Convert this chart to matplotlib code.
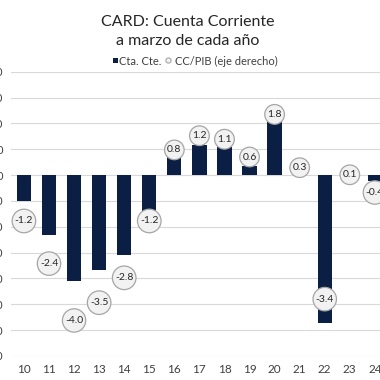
import numpy as np
import matplotlib
matplotlib.use("Agg")
from matplotlib import pyplot as plt
from matplotlib.patches import Rectangle, Circle

plt.rcParams['font.family'] = ['Lato', 'DejaVu Sans']

# data
years = ["10", "11", "12", "13", "14", "15", "16", "17", "18", "19", "20", "21", "22", "23", "24"]
cta_cte = [-100, -230, -410, -368, -310, -140, 72, 116, 110, 36, 206, 5, -572, 3, -24]   # left axis
cc_pib = [-1.2, -2.4, -4.0, -3.5, -2.8, -1.2, 0.8, 1.2, 1.1, 0.6, 1.8, 0.3, -3.4, 0.1, -0.4]  # right axis
left_ticks = [400, 300, 200, 100, 0, -100, -200, -300, -400, -500, -600, -700]

navy = "#0b1f45"

fig = plt.figure(figsize=(3.8, 3.8), dpi=100)
# plot area runs past the right edge, like the cropped original
ax = fig.add_axes([0.030, 0.0632, 0.9895, 0.748])
x = np.arange(len(years))

ax.bar(x, cta_cte, width=0.57, color=navy, zorder=3)
ax.set_ylim(-700, 400)
ax.set_yticks(left_ticks)
ax.set_yticklabels([str(t) for t in left_ticks], fontsize=8, color="#404040")
ax.set_xlim(-0.5, len(years) - 0.5)
ax.set_xticks(x)
ax.set_xticklabels(years, fontsize=8.5, color="#404040")
ax.grid(axis="y", color="#d9d9d9", lw=0.8, zorder=0)
for s in ax.spines.values():
    s.set_visible(False)
ax.tick_params(length=0, pad=6)
ax.tick_params(axis="y", pad=6)

ax2 = ax.twinx()
ax2.set_ylim(-5, 3)
ax2.set_yticks([])
for s in ax2.spines.values():
    s.set_visible(False)
for xi, v in zip(x, cc_pib):
    ax2.text(xi, v, f"{v:.1f}", ha="center", va="center", fontsize=7.5, color="#262626",
             bbox=dict(boxstyle="circle,pad=0.25", fc="#f2f2f2", ec="#a6a6a6", lw=0.9), zorder=5)

fig.text(0.495, 0.943, "CARD: Cuenta Corriente", ha="center", va="center", fontsize=11.5, color="#262626")
fig.text(0.495, 0.891, "a marzo de cada año", ha="center", va="center", fontsize=11.5, color="#262626")

# legend
fig.add_artist(Rectangle((113 / 380, 1 - 63 / 380), 5 / 380, 5 / 380, transform=fig.transFigure,
                         fc=navy, ec="none"))
fig.text(0.313, 0.839, "Cta. Cte.", ha="left", va="center", fontsize=8, color="#404040")
fig.add_artist(Circle((168.5 / 380, 1 - 60.5 / 380), 2.6 / 380, transform=fig.transFigure,
                      fc="#f2f2f2", ec="#a6a6a6", lw=0.8))
fig.text(0.460, 0.839, "CC/PIB (eje derecho)", ha="left", va="center", fontsize=8, color="#404040")

fig.savefig("out.png", dpi=100)
